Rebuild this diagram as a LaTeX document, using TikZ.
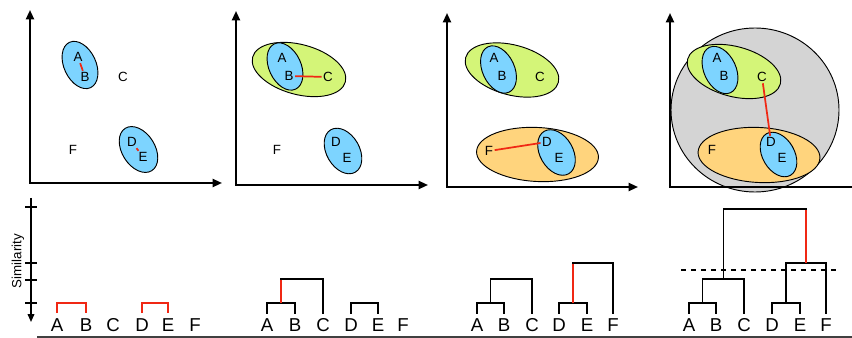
\documentclass[tikz,border=0pt]{standalone}
\usepackage{fontspec}
\setmainfont{Liberation Sans}
\usetikzlibrary{arrows.meta,calc}
\definecolor{cblue}{RGB}{125,212,255}
\definecolor{cgreen}{RGB}{212,245,120}
\definecolor{corange}{RGB}{255,212,125}
\definecolor{cgray}{RGB}{212,212,212}
\definecolor{cred}{RGB}{240,40,20}
\tikzset{
  axis/.style={line width=1.5pt, {Triangle[length=7pt,width=6pt]}-{Triangle[length=7pt,width=6pt]}},
  ellbase/.style={draw=black, line width=0.7pt},
  blueell/.style={ellbase, fill=cblue},
  greenell/.style={ellbase, fill=cgreen},
  orangeell/.style={ellbase, fill=corange},
  grayell/.style={ellbase, fill=cgray},
  pt/.style={font=\fontsize{10}{12}\selectfont, inner sep=1pt},
  lab/.style={font=\fontsize{14}{16}\selectfont, inner sep=1pt},
  link/.style={draw=cred, line width=1.3pt},
  dend/.style={line width=1.1pt, draw=black, line cap=rect},
  dendred/.style={line width=1.1pt, draw=cred},
}
\begin{document}
\begin{tikzpicture}[x=0.75pt, y=-0.75pt]
\useasboundingbox (0,0) rectangle (852,338);

% ---------------- Panel 1 ----------------
\draw[blueell, shift={(80,65)}, rotate=-65] (0,0) ellipse [x radius=25, y radius=16];
\draw[blueell, shift={(138.5,149.5)}, rotate=-58] (0,0) ellipse [x radius=25, y radius=16.5];
\node[pt] (p1A) at (78,57) {A};
\node[pt] (p1B) at (85,77) {B};
\node[pt] (p1C) at (123,77) {C};
\node[pt] (p1D) at (132,142) {D};
\node[pt] (p1E) at (143,157) {E};
\node[pt] (p1F) at (73,150) {F};
\draw[link] (p1A) -- (p1B);
\draw[link] (p1D) -- (p1E);
\draw[axis] (30,10) -- (30,183) -- (222,183);

% ---------------- Panel 2 ----------------
\draw[greenell, shift={(299,69.5)}, rotate=-15] (0,0) ellipse [x radius=48, y radius=25];
\draw[blueell, shift={(285,66.5)}, rotate=-65] (0,0) ellipse [x radius=25, y radius=16];
\draw[blueell, shift={(343,151)}, rotate=-60] (0,0) ellipse [x radius=24.5, y radius=16.5];
\node[pt] (p2A) at (282,58) {A};
\node[pt] (p2B) at (289,76) {B};
\node[pt] (p2C) at (328,77) {C};
\node[pt] (p2D) at (336,142) {D};
\node[pt] (p2E) at (347,158) {E};
\node[pt] (p2F) at (277,150) {F};
\draw[link] (p2B) -- (p2C);
\draw[axis] (236,11) -- (236,185) -- (428,185);

% ---------------- Panel 3 ----------------
\draw[greenell, shift={(512,70)}, rotate=-15] (0,0) ellipse [x radius=48, y radius=25];
\draw[blueell, shift={(498.5,69.5)}, rotate=-65] (0,0) ellipse [x radius=25, y radius=16];
\draw[orangeell, shift={(537.5,154.5)}, rotate=-3] (0,0) ellipse [x radius=61, y radius=27];
\draw[blueell, shift={(556.5,152.5)}, rotate=-60] (0,0) ellipse [x radius=24.5, y radius=16.5];
\node[pt] (p3A) at (494,58) {A};
\node[pt] (p3B) at (502,76) {B};
\node[pt] (p3C) at (540,77) {C};
\node[pt] (p3D) at (547,142) {D};
\node[pt] (p3E) at (559,158) {E};
\node[pt] (p3F) at (489,151) {F};
\draw[link] (p3F) -- (p3D);
\draw[axis] (447,13) -- (447,187) -- (638,187);

% ---------------- Panel 4 ----------------
\draw[grayell] (755,110) ellipse [x radius=84, y radius=82];
\draw[greenell, shift={(734,71.5)}, rotate=-15] (0,0) ellipse [x radius=48, y radius=25];
\draw[blueell, shift={(720,70)}, rotate=-65] (0,0) ellipse [x radius=25, y radius=16];
\draw[orangeell, shift={(759,155)}, rotate=-3] (0,0) ellipse [x radius=61, y radius=27.5];
\draw[blueell, shift={(778.5,154.5)}, rotate=-60] (0,0) ellipse [x radius=24, y radius=16];
\node[pt] (p4A) at (717,58) {A};
\node[pt] (p4B) at (724,76) {B};
\node[pt] (p4C) at (762,77) {C};
\node[pt] (p4D) at (771,142) {D};
\node[pt] (p4E) at (782,158) {E};
\node[pt] (p4F) at (712,150) {F};
\draw[link] (p4C) -- (p4D);
\draw[line width=1.5pt, {Triangle[length=7pt,width=6pt]}-] (670,13) -- (670,187) -- (852,187);

% ---------------- Similarity axis ----------------
\draw[line width=1.2pt, -{Triangle[length=6pt,width=5pt]}] (31,198) -- (31,322);
\foreach \yy in {207,263,280,303} \draw[line width=1.2pt] (25,\yy) -- (37,\yy);
\node[rotate=90, font=\fontsize{10}{12}\selectfont, inner sep=0pt] (sim) at (18,261) {Similarity};

% ---------------- Dendrogram levels ----------------
\coordinate (L0) at (0,313);
\coordinate (L1) at (0,303);
\coordinate (L2) at (0,279);
\coordinate (L3) at (0,263);
\coordinate (L4) at (0,209);

% ---------------- Dendrogram labels ----------------
\foreach \p/\xa/\xb/\xc/\xd/\xe/\xf in {1/57/86/113/142/168/195, 2/267/295/323/351/378/403, 3/477/504/532/559/587/613, 4/689/716/744/772/800/826}{
  \node[lab] (d\p A) at (\xa,325) {A};
  \node[lab] (d\p B) at (\xb,325) {B};
  \node[lab] (d\p C) at (\xc,325) {C};
  \node[lab] (d\p D) at (\xd,325) {D};
  \node[lab] (d\p E) at (\xe,325) {E};
  \node[lab] (d\p F) at (\xf,325) {F};
}

% Dendrogram 1
\draw[dendred] (d1A|-L0) -- (d1A|-L1) -- (d1B|-L1) -- (d1B|-L0);
\draw[dendred] (d1D|-L0) -- (d1D|-L1) -- (d1E|-L1) -- (d1E|-L0);

% Dendrogram 2
\coordinate (m2ab) at ($(d2A)!.5!(d2B)$);
\draw[dend] (d2A|-L0) -- (d2A|-L1) -- (d2B|-L1) -- (d2B|-L0);
\draw[dendred] (m2ab|-L1) -- (m2ab|-L2);
\draw[dend] (m2ab|-L2) -- (d2C|-L2) -- (d2C|-L0);
\draw[dend] (d2D|-L0) -- (d2D|-L1) -- (d2E|-L1) -- (d2E|-L0);

% Dendrogram 3
\coordinate (m3ab) at ($(d3A)!.5!(d3B)$);
\coordinate (m3de) at ($(d3D)!.5!(d3E)$);
\draw[dend] (d3A|-L0) -- (d3A|-L1) -- (d3B|-L1) -- (d3B|-L0);
\draw[dend] (m3ab|-L1) -- (m3ab|-L2) -- (d3C|-L2) -- (d3C|-L0);
\draw[dend] (d3D|-L0) -- (d3D|-L1) -- (d3E|-L1) -- (d3E|-L0);
\draw[dendred] (m3de|-L1) -- (m3de|-L3);
\draw[dend] (m3de|-L3) -- (d3F|-L3) -- (d3F|-L0);

% Dendrogram 4
\coordinate (m4ab) at ($(d4A)!.5!(d4B)$);
\coordinate (m4de) at ($(d4D)!.5!(d4E)$);
\coordinate (m4abc) at ($(m4ab)!.5!(d4C)$);
\coordinate (m4def) at ($(m4de)!.5!(d4F)$);
\draw[dend] (d4A|-L0) -- (d4A|-L1) -- (d4B|-L1) -- (d4B|-L0);
\draw[dend] (m4ab|-L1) -- (m4ab|-L2) -- (d4C|-L2) -- (d4C|-L0);
\draw[dend] (d4D|-L0) -- (d4D|-L1) -- (d4E|-L1) -- (d4E|-L0);
\draw[dend] (m4de|-L1) -- (m4de|-L3) -- (d4F|-L3) -- (d4F|-L0);
\draw[dendred] (m4def|-L3) -- (m4def|-L4);
\draw[dend] (m4abc|-L2) -- (m4abc|-L4) -- (m4def|-L4);
\coordinate (cutL) at (681,270);
\coordinate (cutR) at (840,270);
\draw[line width=1pt, dash pattern=on 4pt off 3.5pt] (cutL) -- (cutR);

% bottom rule
\draw[line width=0.8pt, black!75] (37,337) -- (852,337);
\end{tikzpicture}
\end{document}
